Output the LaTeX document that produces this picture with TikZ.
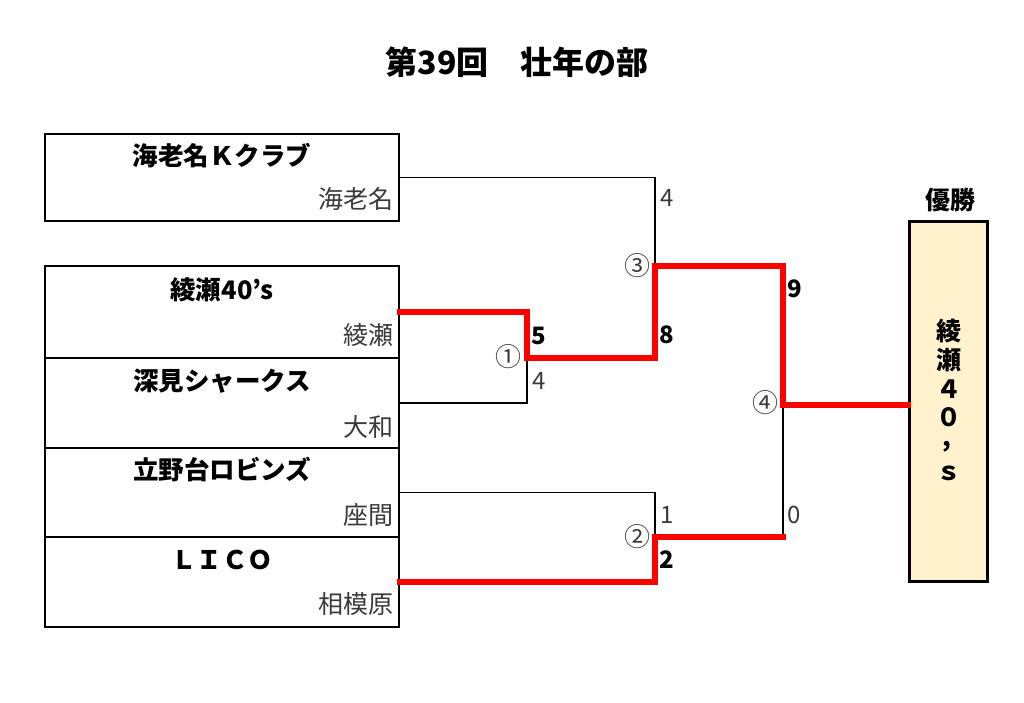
\documentclass[tikz,border=0pt]{standalone}
\usepackage{fontspec}
\setmainfont{Noto Sans CJK JP}
\definecolor{txtgray}{HTML}{3A3A3A}
\definecolor{winred}{HTML}{FF0000}
\definecolor{cream}{HTML}{FFF2CC}
\tikzset{
  team/.style={draw=black, line width=1.5pt, minimum width=354pt, inner sep=0pt},
  tname/.style={font=\fontsize{25.5}{28}\selectfont\bfseries, text=black, inner sep=0pt},
  tsub/.style={font=\fontsize{25}{28}\selectfont, text=txtgray, inner sep=0pt, anchor=east},
  lose/.style={draw=black, line width=1.5pt},
  win/.style={draw=winred, line width=5.5pt, line cap=rect, line join=miter},
  scl/.style={font=\fontsize{24}{28}\selectfont, text=txtgray, inner sep=0pt},
  scw/.style={font=\fontsize{24}{28}\selectfont\bfseries, text=black, inner sep=0pt},
  rnd/.style={font=\fontsize{26}{28}\selectfont, text=txtgray, inner sep=0pt},
  wch/.style={font=\fontsize{25}{28}\selectfont\bfseries, inner sep=0pt, anchor=base, text height=19pt, text depth=0pt},
}
\begin{document}
\begin{tikzpicture}[x=1pt,y=-1pt]
\useasboundingbox (0,0) rectangle (1024,702);
% title
\node[font=\fontsize{32}{36}\selectfont\bfseries, inner sep=0pt] (title) at (517,62) {第39回　壮年の部};
% team boxes
\node[team, minimum height=87pt] (b1) at (222,177.5) {};
\node[team, minimum height=92pt] (b2) at (222,312) {};
\node[team, minimum height=90pt] (b3) at (222,403) {};
\node[team, minimum height=89pt] (b4) at (222,492.5) {};
\node[team, minimum height=90pt] (b5) at (222,582) {};
% names
\node[tname] (n1) at (222,156) {海老名Ｋクラブ};
\node[tsub] (s1) at (394,199) {海老名};
\node[tname] (n2) at (222,290) {綾瀬40's};
\node[tsub] (s2) at (394,335) {綾瀬};
\node[tname] (n3) at (222,381) {深見シャークス};
\node[tsub] (s3) at (394,427) {大和};
\node[tname] (n4) at (222,470) {立野台ロビンズ};
\node[tsub] (s4) at (394,515) {座間};
\node[tname] (n5) at (222,560) {ＬＩＣＯ};
\node[tsub] (s5) at (394,604) {相模原};
% winner box
\node[font=\fontsize{25}{28}\selectfont\bfseries, inner sep=0pt] (yusho) at (950,200) {優勝};
\node[draw=black, line width=3pt, fill=cream, minimum width=78pt, minimum height=360pt, inner sep=0pt] (w) at (948.5,401.5) {};
\node[wch] (w1) at (949,340) {綾};
\node[wch] (w2) at (949,369) {瀬};
\node[wch] (w3) at (949,398) {４};
\node[wch] (w4) at (949,426) {０};
\node[wch, text height=4pt, text depth=6pt] (w5) at (947,446) {,};
\node[wch] (w6) at (949,480) {ｓ};
% junctions
\coordinate (j1) at (527,358);
\coordinate (j3) at (655,266);
\coordinate (j2) at (655,537);
\coordinate (j4) at (783,405);
% losing lines
\draw[lose] (b1.east) -| (j3);
\draw[lose] (b3.east) -| (j1);
\draw[lose] (b4.east) -| (j2);
\draw[lose] (j2 -| j4) -- (j4);
% winning lines
\draw[win] (b2.east) -| (j1) -| (j3) -| (j4) -- (j4 -| w.west);
\draw[win] (b5.east) -| (j2) -- (j2 -| j4);
% round markers
\node[rnd] (r1) at (508,357) {①};
\node[rnd] (r2) at (637,537) {②};
\node[rnd] (r3) at (637,266) {③};
\node[rnd] (r4) at (765,403) {④};
% scores
\node[scl] (c1) at (667,198) {4};
\node[scw] (c2) at (667,335) {8};
\node[scw] (c3) at (539,336) {5};
\node[scl] (c4) at (539,381) {4};
\node[scw] (c5) at (795,289) {9};
\node[scl] (c6) at (667,515) {1};
\node[scw] (c7) at (667,560) {2};
\node[scl] (c8) at (794,515) {0};
\end{tikzpicture}
\end{document}
